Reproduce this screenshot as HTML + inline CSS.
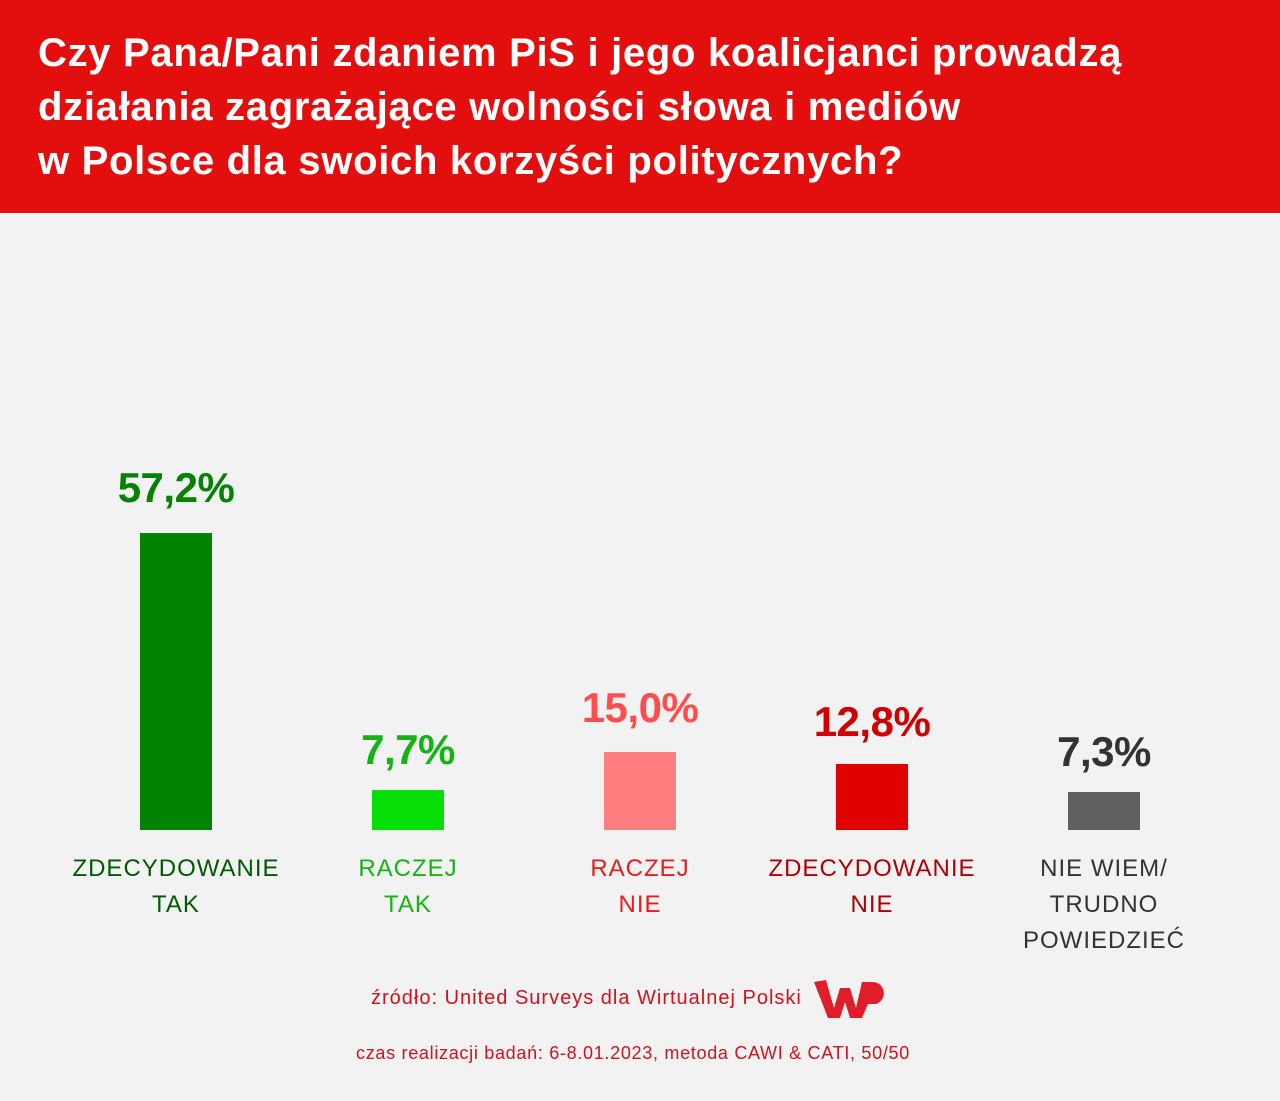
<!DOCTYPE html>
<html><head><meta charset="utf-8"><style>
body{margin:0;width:1280px;height:1101px;background:#f2f2f2;font-family:"Liberation Sans",sans-serif;position:relative;overflow:hidden}
.hdr{position:absolute;left:0;top:0;width:1280px;height:213px;background:#e30f0f}
.hdr div{position:absolute;left:38px;top:26px;color:#fff;font-size:40px;line-height:54px;font-weight:bold;letter-spacing:0.7px}
.bar{position:absolute;width:72px}
.val{position:absolute;width:232px;text-align:center;font-size:42px;font-weight:bold;letter-spacing:-0.5px}
.lab{position:absolute;width:232px;text-align:center;font-size:24px;line-height:36px;top:851px;letter-spacing:1px}
.src{position:absolute;color:#d4101c;font-size:20px;letter-spacing:1px}
</style></head><body>
<div class="hdr"><div>Czy Pana/Pani zdaniem PiS i jego koalicjanci prowadzą<br>działania zagrażające wolności słowa i mediów<br>w Polsce dla swoich korzyści politycznych?</div></div>

<div class="bar" style="left:140px;top:533px;height:297px;background:#038203"></div>
<div class="val" style="left:60px;top:464px;color:#038203">57,2%</div>
<div class="lab" style="left:60px;color:#005a00">ZDECYDOWANIE<br>TAK</div>

<div class="bar" style="left:372px;top:790px;height:40px;background:#06e006"></div>
<div class="val" style="left:292px;top:726px;color:#14b414">7,7%</div>
<div class="lab" style="left:292px;color:#14b414">RACZEJ<br>TAK</div>

<div class="bar" style="left:604px;top:752px;height:78px;background:#ff7f7f"></div>
<div class="val" style="left:524px;top:684px;color:#ff4d4d">15,0%</div>
<div class="lab" style="left:524px;color:#e81c1c">RACZEJ<br>NIE</div>

<div class="bar" style="left:836px;top:764px;height:66px;background:#e00000"></div>
<div class="val" style="left:756px;top:698px;color:#d00000">12,8%</div>
<div class="lab" style="left:756px;color:#b00000">ZDECYDOWANIE<br>NIE</div>

<div class="bar" style="left:1068px;top:792px;height:38px;background:#606060"></div>
<div class="val" style="left:988px;top:728px;color:#333">7,3%</div>
<div class="lab" style="left:988px;color:#333">NIE WIEM/<br>TRUDNO<br>POWIEDZIEĆ</div>

<div class="src" style="left:371px;top:987px">źródło: United Surveys dla Wirtualnej Polski</div>
<svg style="position:absolute;left:812px;top:976px" width="76" height="46" viewBox="0 0 76 46">
<path d="M2 6 L14 4 L22 32 L28 12 L38 12 L44 32 L50 6 L60 6 C74 6 76 24 64 28 L56 28 L50 42 L38 42 L33 26 L28 42 L16 42 Z" fill="#e01e2a"/>
</svg>
<div class="src" style="left:356px;top:1043px;font-size:18px;letter-spacing:0.7px">czas realizacji badań: 6-8.01.2023, metoda CAWI &amp; CATI, 50/50</div>
</body></html>
